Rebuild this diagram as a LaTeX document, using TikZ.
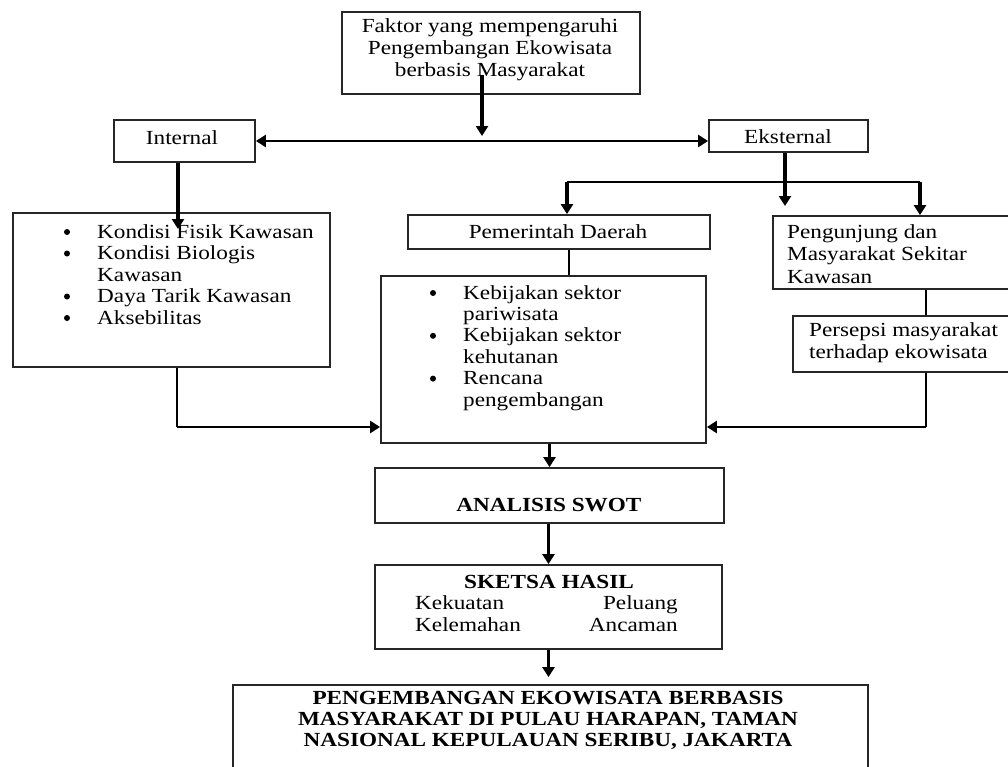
\documentclass[tikz,border=0pt]{standalone}
\usepackage{fontspec}
\setmainfont{Liberation Serif}[FakeStretch=1.16]
\usetikzlibrary{arrows.meta}
\begin{document}
\begin{tikzpicture}[x=1pt,y=-1pt,
  box/.style={draw=black!85,line width=1.8pt,inner sep=0pt,fill=none},
  txt/.style={inner sep=0pt,font=\fontsize{20}{22}\selectfont},
  btxt/.style={inner sep=0pt,font=\fontsize{20}{21}\selectfont\bfseries},
  bul/.style={circle,fill=black,inner sep=0pt,minimum size=6pt},
  lnk/.style={line width=2pt},
  hlnk/.style={line width=2.8pt},
  tip/.style={-{Triangle[width=12pt,length=10pt]}},
  arr/.style={line width=3.5pt,tip},
]
\clip (0,0) rectangle (1008,766);
\fill[white] (0,0) rectangle (1008,766);

% boxes
\node[box,minimum width=298pt,minimum height=82pt] (top) at (491,53) {};
\node[box,minimum width=141pt,minimum height=42pt] (int) at (184.5,141) {};
\node[box,minimum width=159pt,minimum height=32pt] (ext) at (788.5,136) {};
\node[box,minimum width=317pt,minimum height=154pt] (left) at (171.5,290) {};
\node[box,minimum width=302pt,minimum height=34pt] (pem) at (559,232) {};
\node[box,minimum width=325pt,minimum height=167pt] (mid) at (543.5,359.5) {};
\node[box,minimum width=257pt,minimum height=73pt] (peng) at (901.5,252.5) {};
\node[box,minimum width=237pt,minimum height=56pt] (pers) at (911.5,344) {};
\node[box,minimum width=349pt,minimum height=55pt] (swot) at (549.5,495.5) {};
\node[box,minimum width=347pt,minimum height=84pt] (sket) at (548.5,607) {};
\node[box,minimum width=635pt,minimum height=105pt] (fin) at (550.5,737.5) {};

% texts
\node[txt,align=center] (ttop) at (490,50) {Faktor yang mempengaruhi\\Pengembangan Ekowisata\\berbasis Masyarakat};
\node[txt] (tint) at (182,138) {Internal};
\node[txt] (text) at (788,137) {Eksternal};
\node[txt] (tpem) at (558,232) {Pemerintah Daerah};

\node[bul] (lb1) at (67,232) {};
\node[txt,anchor=base west] (lt1) at (97,238) {Kondisi Fisik Kawasan};
\node[bul] (lb2) at (67,253.5) {};
\node[txt,anchor=base west] (lt2) at (97,259.5) {Kondisi Biologis};
\node[txt,anchor=base west] (lt3) at (97,281) {Kawasan};
\node[bul] (lb4) at (67,296.5) {};
\node[txt,anchor=base west] (lt4) at (97,302.5) {Daya Tarik Kawasan};
\node[bul] (lb5) at (67,318) {};
\node[txt,anchor=base west] (lt5) at (97,324) {Aksebilitas};

\node[bul] (mb1) at (433,293) {};
\node[txt,anchor=base west] (mt1) at (463,299) {Kebijakan sektor};
\node[txt,anchor=base west] (mt2) at (463,320.4) {pariwisata};
\node[bul] (mb3) at (433,335.8) {};
\node[txt,anchor=base west] (mt3) at (463,341.8) {Kebijakan sektor};
\node[txt,anchor=base west] (mt4) at (463,363.2) {kehutanan};
\node[bul] (mb5) at (433,378.6) {};
\node[txt,anchor=base west] (mt5) at (463,384.6) {Rencana};
\node[txt,anchor=base west] (mt6) at (463,406) {pengembangan};

\node[txt,anchor=base west] (pg1) at (787,238) {Pengunjung dan};
\node[txt,anchor=base west] (pg2) at (787,260) {Masyarakat Sekitar};
\node[txt,anchor=base west] (pg3) at (787,283) {Kawasan};
\node[txt,anchor=base west] (ps1) at (809,336) {Persepsi masyarakat};
\node[txt,anchor=base west] (ps2) at (809,358) {terhadap ekowisata};

\node[btxt] (tswot) at (549,505) {ANALISIS SWOT};
\node[btxt] (tsk) at (549,582) {SKETSA HASIL};
\node[txt,anchor=base west] (sk1) at (415,609) {Kekuatan};
\node[txt,anchor=base east] (sk2) at (678,609) {Peluang};
\node[txt,anchor=base west] (sk3) at (415,631) {Kelemahan};
\node[txt,anchor=base east] (sk4) at (678,631) {Ancaman};
\node[btxt,align=center] (tfin) at (548,720) {PENGEMBANGAN EKOWISATA BERBASIS\\MASYARAKAT DI PULAU HARAPAN, TAMAN\\NASIONAL KEPULAUAN SERIBU, JAKARTA};

% connectors
\coordinate (c1s) at (482,75);
\coordinate (c1e) at (482,136);
\draw[arr] (c1s) -- (c1e);
\draw[hlnk,{Triangle[width=12pt,length=10pt]}-{Triangle[width=12pt,length=10pt]}] (int.east) -- (int.east -| ext.west);

\coordinate (c3) at (178,229);
\draw[arr] (c3 |- int.south) -- (c3);
\coordinate (c4) at (785,206);
\draw[arr] (c4 |- ext.south) -- (c4);

\coordinate (h1) at (567,182);
\coordinate (h2) at (920,182);
\draw[hlnk] (h1) -- (h2);
\draw[arr] (h1) -- (h1 |- pem.north);
\draw[arr] (h2) -- (h2 |- peng.north);

\coordinate (c6) at (569,260);
\draw[lnk] (c6 |- pem.south) -- (c6 |- mid.north);

\coordinate (c7) at (177,427);
\draw[lnk] (c7 |- left.south) -- (c7);
\draw[hlnk,tip] (c7) -- (c7 -| mid.west);

\coordinate (c8) at (926,300);
\draw[lnk] (c8 |- peng.south) -- (c8 |- pers.north);
\coordinate (c9) at (926,427);
\draw[lnk] (c9 |- pers.south) -- (c9);
\draw[hlnk,tip] (c9) -- (c9 -| mid.east);

\draw[arr] (swot.north |- mid.south) -- (swot.north);
\draw[arr] (sket.north |- swot.south) -- (sket.north);
\draw[arr,shorten >=7pt] (sket.south) -- (sket.south |- fin.north);
\end{tikzpicture}
\end{document}
